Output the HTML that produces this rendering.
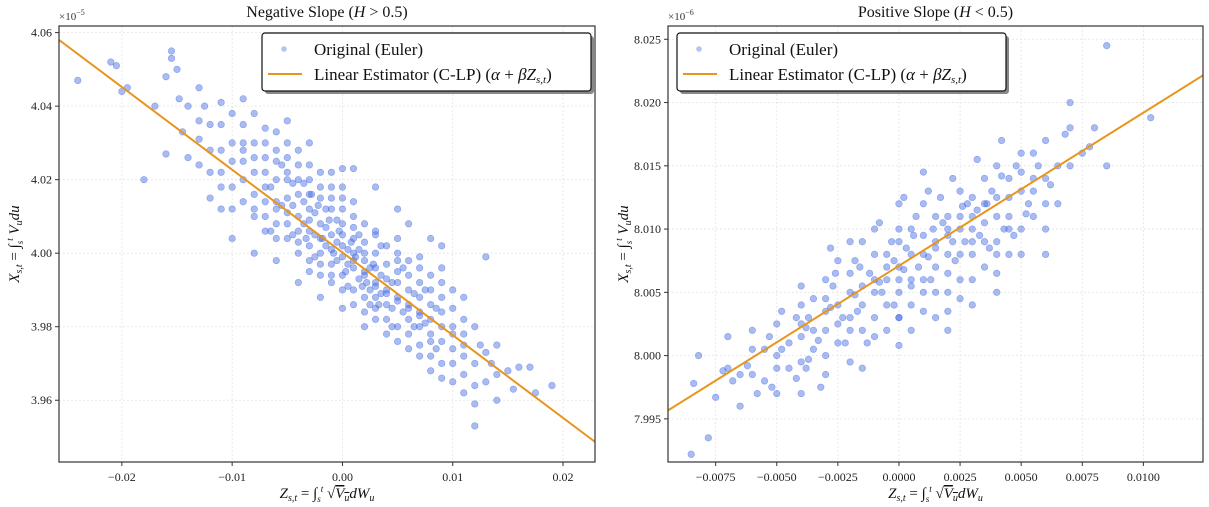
<!DOCTYPE html>
<html><head><meta charset="utf-8"><style>
body{margin:0;background:#fff}
svg{display:block;font-family:"Liberation Serif","DejaVu Serif",serif}
</style></head><body>
<svg id="chart" width="1209" height="507" viewBox="0 0 1209 507"></svg>
<script>
// Left panel data: Z in units of 1e-3, X offset (X-4.00e-5) in units of 1e-8
const leftZ=[-24,-21,-20.5,-20,-19.5,-18,-17,-16,-15.5,-15.5,-15,-14.8,-14,-13,-13,-12,-11,-16,-14,-12,-10,-9,-8,-13,-11,-10,-9,-12,-11,-10,-8,-7,-6,-5,-3,0,-9,-8,-7,-6,-6,-5,-5,-4,-4,-4,-3,-3,-3,-2,-2,-2,-1,-1,-1,0,0,0,0,1,1,1,2,2,2,3,3,3,4,4,4,5,5,5,6,6,6,7,7,7,8,8,8,9,9,9,10,10,10,11,11,11,12,12,12,12,13,13,14,14,15,15.5,17,17.5,19,16,13,9,8,6,-4,-2,0,2,-8,-6,5,3,1,-7,-6,-5,-4,-3,-2,-1,0,1,2,3,4,5,6,7,-7,-6,-5,-4,-3,-2,-1,0,1,2,3,4,5,6,7,8,-8,-9,-10,-11,-7,-5,-3,-1,1,3,5,7,9,10,11,9,8,-0.5,0.5,1.5,-1.5,2.5,-2.5,3.5,-3.5,4.5,-4.5];
const leftX=[47,52,51,44,45,20,40,48,55,53,50,42,40,45,36,35,41,27,26,22,38,42,38,31,28,25,20,15,12,4,10,30,33,36,30,23,30,22,18,25,14,20,8,16,24,3,12,20,-5,8,15,0,5,12,-3,2,8,-6,15,-2,4,-10,-5,3,-12,-8,0,-15,-10,-3,-18,-12,-5,-20,-14,-6,-22,-16,-8,-25,-18,-10,-28,-20,-12,-30,-22,-15,-35,-25,-18,-33,-30,-20,-47,-41,-27,-35,-33,-25,-32,-37,-31,-38,-36,-31,-1,2,4,8,-8,-12,-15,-20,0,-2,12,18,23,10,20,15,10,6,4,1,-1,-4,-6,-9,-11,-13,-15,-17,22,8,11,6,9,-3,-6,5,7,0,-4,-7,0,-10,-12,-14,16,25,18,22,26,26,16,18,10,5,-2,-4,-8,-26,-28,-24,-22,3,-3,1,7,-10,11,-6,14,-15,13];
const leftZExtra=[-9,-9,-8,-8,-8,-7,-7,-7,-6,-6,-6,-5,-5,-5,-4,-4,-4,-3,-3,-3,-2,-2,-2,-1,-1,-1,0,0,0,1,1,1,2,2,2,3,3,3,4,4,4,5,5,5,6,6,6,7,7,7,8,8,8,9,9,9,10,10,10,11,11,11,-10,-10,-11,-11,-12,-13,-9,-6.5,-5.5,-4.5,-3.5,-2.5,-1.5,-0.5,0.5,1.5,2.5,3.5,4.5,5.5,6.5,7.5,8.5,-6.5,-5.5,-4.5,-3.5,-2.5,-1.5,-0.5,0.5,1.5,2.5,3.5,4.5,5.5,6.5,7.5,8.5,-0.3,0.3,-0.8,0.8,-1.2,1.2,-1.8,1.8,-2.2,2.2,-2.8,2.8,-3.3,3.3,12.5,13.5,-14.5,14,-12.5,12];
const leftXExtra=[28,14,26,12,30,14,6,34,12,28,4,22,4,30,20,0,28,2,24,-2,18,-6,22,-8,15,22,12,-10,18,-14,14,0,-16,8,-2,-18,6,-12,-22,2,-14,-24,4,-8,-26,-2,-18,-28,-1,-20,-32,-6,-24,-34,-4,-16,-30,-10,-20,-38,-12,-22,30,12,35,18,28,24,35,18,13,19,8,5,2,-2,1,-7,-4,-11,-8,-16,-11,-19,-15,6,24,5,19,-1,12,9,-9,5,-14,2,-20,-4,-20,-10,-26,6,-5,0,3,9,-1,4,-9,13,-8,16,-3,4,-14,-25,-30,33,-40,40,-36];
// Right panel data: Z in units of 1e-3, X offset (X-8.000e-6) in units of 1e-9
const rightZ=[-8.5,-8.4,-8.2,-7.8,-7,-6.5,-6,-5.5,-5,-5,-4.5,-4,-3.8,-3,-3,-2.5,-2,-1.5,-1,-0.5,0,0,0.5,1,1,1.5,2,2,2.5,3,3,3.5,4,4,4.5,5,5,5.5,6,6,6.5,7,7,7.5,8,8.5,8.5,10.3,-6.5,-4,-2,0,2,4,6,-7.5,-7,-6,-5.5,-4.5,-3.5,-3,-2.5,-2,-1.5,-1,-1,-0.5,-0.5,0,0,0.5,0.5,1,1,1.5,1.5,2,2,2.5,2.5,3,3,3.5,3.5,4,4,4.5,4.5,5,5.5,5.5,6,6.5,7,-5,-4,-3,-2,-1,0,1,2,3,-3.5,-2.5,-1.5,-0.5,0.5,1.5,2.5,3.5,4.5,5.5,-6,-5,-4,-3.2,-4.2,-5.8,-2.8,-1.8,-0.8,0.2,1.2,2.2,3.2,4.2,6.8,7.8];
const rightX=[-7.8,-2.2,0,-6.5,-1,-4,-1.5,0.5,-3,2.5,1,4,-1,6,2,7.5,3,9,5,8,7,3,10,6,12,9,5,11,13,8,10,12,9,15,11,13,16,14,12,17,15,18,20,16,18,15,24.5,18.8,-1.5,-3,-0.5,0.8,2,5,8,-3.3,1.5,2,-2,-1,0.5,-1.5,1,5,2,3,8,4,6,5,9,6,4,8,3.5,7,11,8,9.5,8,10,11,6,9,14,11,12.5,14,8,10,11,16,14,12,15,0,1.5,3.5,2,6,3,5,6.5,9,4.5,4,5.5,2,8,5,6,7,10,13,0.5,-1,-0.5,-2.5,3,-3,8.5,7.5,10.5,12.5,13,14,15.5,17,17.5,16.5];
const rightZExtra=[-4,-3.5,-3,-2.5,-2,-1.5,-1,-0.5,0,0,0.5,1,1.5,2,2.5,3,3.5,4,4.5,5,-4.8,-4.2,-3.7,-2.7,-2.2,-1.7,-1.2,-0.7,-0.2,0.3,0.8,1.3,1.8,2.3,2.8,3.3,3.8,4.3,4.8,5.3,-5.3,-6.2,-6.8,-7.2,-5.2,-3.7,-2.3,-1.3,-0.3,0.7,1.7,2.7,3.7,4.7,5.7,6.2,-1,0,1,-2,2,3,4,-4,-3,-1.5,0.5,1.5,2.5,5,6,5.2,4.2,3.2,2.2,1.2,0.2,-0.8,-1.8,-2.8,-3.8,-4.8,-0.2,0.6,1.4,2.6,3.6,-2.6,-1.6,-3.3];
const rightXExtra=[2.5,2,4.5,2.5,6.5,4,1.5,7,6,10,5.5,9.5,8.5,10,11,12.5,10.5,8,12.5,14.5,0.5,-1.8,3,5.5,1,3.5,6.5,5,4,8.5,7,6,10.5,7.5,12,9.5,13,10,15,12,1.5,-0.8,-2,-1.2,-2.5,-0.3,3,1,9,11,12.5,9,8.5,9.5,15,13.5,10,12,14.5,9,3.5,4,6.5,5.5,0,-1,2,3,4.5,8,10,11.2,14.2,11.5,9,7.8,6.8,5.8,4.8,3.8,2.2,3.5,7.5,9.5,10,11.8,12,6.5,7,1.2];
const leftXTicks=[-0.02,-0.01,0,0.01,0.02], leftXTickLabels=["\u22120.02","\u22120.01","0.00","0.01","0.02"];
const leftYTicks=[3.96,3.98,4.00,4.02,4.04,4.06], leftYTickLabels=["3.96","3.98","4.00","4.02","4.04","4.06"];
const rightXTicks=[-0.0075,-0.005,-0.0025,0,0.0025,0.005,0.0075,0.01], rightXTickLabels=["\u22120.0075","\u22120.0050","\u22120.0025","0.0000","0.0025","0.0050","0.0075","0.0100"];
const rightYTicks=[7.995,8.000,8.005,8.010,8.015,8.020,8.025], rightYTickLabels=["7.995","8.000","8.005","8.010","8.015","8.020","8.025"];
const leftFit=[4.0002,-2.25], rightFit=[8.0071,1.21];

const NS="http://www.w3.org/2000/svg", svg=document.getElementById('chart');
function mk(t,a,p){const e=document.createElementNS(NS,t);for(const k in a)e.setAttribute(k,a[k]);(p||svg).appendChild(e);return e;}
function lin(d0,d1,r0,r1){return v=>r0+(v-d0)/(d1-d0)*(r1-r0);}

function panel(o){
  const g=mk('g',{});
  
  
  const sx=lin(o.xd[0],o.xd[1],o.L,o.R), sy=lin(o.yd[0],o.yd[1],o.B,o.T);
  const cp='cp'+o.name; const c=mk('clipPath',{id:cp},g); mk('rect',{x:o.L,y:o.T,width:o.R-o.L,height:o.B-o.T},c);
  o.xt.forEach((v,i)=>{const x=sx(v);
    const gl=mk('line',{x1:x,x2:x,y1:o.T,y2:o.B,stroke:'#e4e4e4','stroke-dasharray':'2,2','stroke-width':0.8},g);
    
    mk('line',{x1:x,x2:x,y1:o.B,y2:o.B+4,stroke:'#333'},g);
    const t=mk('text',{x:x,y:o.B+19,'text-anchor':'middle','font-size':12,fill:'#222'},g);t.textContent=o.xl[i];
    });
  o.yt.forEach((v,i)=>{const y=sy(v);
    const gl=mk('line',{x1:o.L,x2:o.R,y1:y,y2:y,stroke:'#e4e4e4','stroke-dasharray':'2,2','stroke-width':0.8},g);
    
    mk('line',{x1:o.L-4,x2:o.L,y1:y,y2:y,stroke:'#333'},g);
    const t=mk('text',{x:o.L-7,y:y+4,'text-anchor':'end','font-size':12,fill:'#222'},g);t.textContent=o.yl[i];
    });
  const pg=mk('g',{'clip-path':'url(#'+cp+')'},g);
  const zs=o.zs.concat(o.zs2), xs=o.xs.concat(o.xs2);
  zs.forEach((z,i)=>{const p=mk('circle',{cx:sx(z*o.zk),cy:sy(o.y0+xs[i]*o.xk),r:3.3,fill:'#4169e1','fill-opacity':0.45,stroke:'#4169e1','stroke-opacity':0.5,'stroke-width':0.6},pg);
    });
  const f=x=>o.fit[0]+o.fit[1]*x;
  const ln=mk('line',{x1:o.L,y1:sy(f(o.xd[0])),x2:o.R,y2:sy(f(o.xd[1])),stroke:'#e8951c','stroke-width':2},pg);
  
  const fr=mk('rect',{x:o.L,y:o.T,width:o.R-o.L,height:o.B-o.T,fill:'none',stroke:'#333','stroke-width':1.2},g);
  
  const tt=mk('text',{x:(o.L+o.R)/2,y:17,'text-anchor':'middle','font-size':16,fill:'#111'},g);
  tt.innerHTML=o.title;
  const mu=mk('text',{x:o.L,y:20,'font-size':11,fill:'#333'},g);mu.innerHTML='×10<tspan dy="-5" font-size="8">'+o.exp+'</tspan>';
  
  const xl=mk('text',{x:(o.L+o.R)/2,y:498,'text-anchor':'middle','font-size':15,'font-style':'italic',fill:'#111'},g);
  xl.innerHTML='Z<tspan dy="3" font-size="10">s,t</tspan><tspan dy="-3" font-style="normal"> = ∫</tspan><tspan dy="4" font-size="9">s</tspan><tspan dy="-10" font-size="9">t</tspan><tspan dy="6" font-style="normal"> √</tspan><tspan text-decoration="overline">V<tspan dy="3" font-size="10">u</tspan></tspan><tspan dy="-3">dW</tspan><tspan dy="3" font-size="10">u</tspan>';
  
  const yl=mk('text',{x:0,y:0,'text-anchor':'middle','font-size':15,'font-style':'italic',fill:'#111',transform:'translate('+(o.L-40)+','+((o.T+o.B)/2)+') rotate(-90)'},g);
  yl.innerHTML='X<tspan dy="3" font-size="10">s,t</tspan><tspan dy="-3" font-style="normal"> = ∫</tspan><tspan dy="4" font-size="9">s</tspan><tspan dy="-10" font-size="9">t</tspan><tspan dy="6"> V</tspan><tspan dy="3" font-size="10">u</tspan><tspan dy="-3">du</tspan>';
  
  const lg=mk('g',{},g);
  mk('rect',{x:o.lx+3,y:36,width:329,height:58,rx:3,fill:'#888'},lg);
  mk('rect',{x:o.lx,y:33,width:329,height:58,rx:3,fill:'#fff',stroke:'#111','stroke-width':1.2},lg);
  mk('circle',{cx:o.lx+22,cy:49,r:2.8,fill:'#4169e1','fill-opacity':0.4},lg);
  const t1=mk('text',{x:o.lx+52,y:55,'font-size':17,fill:'#111'},lg);t1.textContent='Original (Euler)';
  
  mk('line',{x1:o.lx+6,x2:o.lx+40,y1:74,y2:74,stroke:'#e8951c','stroke-width':2},lg);
  const t2=mk('text',{x:o.lx+52,y:80,'font-size':17,fill:'#111'},lg);
  t2.innerHTML='Linear Estimator (C-LP) (<tspan font-style="italic">α</tspan> + <tspan font-style="italic">βZ</tspan><tspan dy="3" font-size="11" font-style="italic">s,t</tspan><tspan dy="-3">)</tspan>';
  
}
panel({name:'left-panel',L:59,R:595,T:26,B:462,xd:[-0.0257,0.0229],yd:[3.9432,4.0618],
  xt:leftXTicks,xl:leftXTickLabels,yt:leftYTicks,yl:leftYTickLabels,zs:leftZ,xs:leftX,zs2:leftZExtra,xs2:leftXExtra,zk:0.001,y0:4.00,xk:0.001,
  fit:leftFit,title:'Negative Slope (<tspan font-style="italic">H</tspan> &gt; 0.5)',exp:'−5',lx:262});
panel({name:'right-panel',L:668,R:1203,T:26,B:462,xd:[-0.00945,0.01244],yd:[7.99159,8.02605],
  xt:rightXTicks,xl:rightXTickLabels,yt:rightYTicks,yl:rightYTickLabels,zs:rightZ,xs:rightX,zs2:rightZExtra,xs2:rightXExtra,zk:0.001,y0:8.000,xk:0.001,
  fit:rightFit,title:'Positive Slope (<tspan font-style="italic">H</tspan> &lt; 0.5)',exp:'−6',lx:677});
</script>
</body></html>
